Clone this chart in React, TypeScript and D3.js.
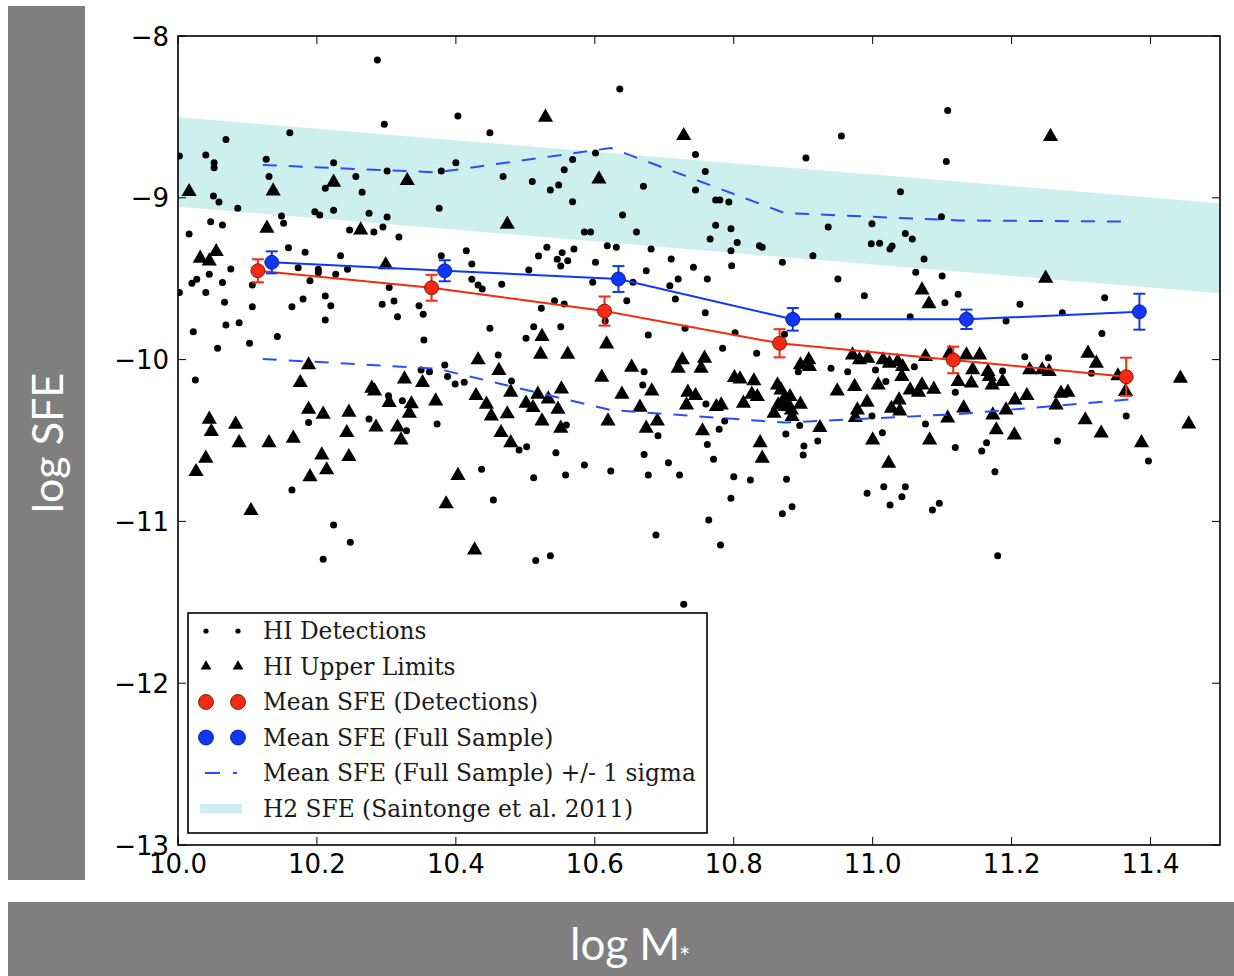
import React from 'react';
import * as d3 from 'd3';

const W = 1234;
const H = 976;
const M = { left: 178, right: 1220, top: 36, bottom: 845 };

const xTicks = [10.0, 10.2, 10.4, 10.6, 10.8, 11.0, 11.2, 11.4];
const yTicks = [-8, -9, -10, -11, -12, -13];

const hiDetections: [number, number][] = [
  [10.287,-8.148],[10.297,-8.546],[10.403,-8.494],[10.449,-8.598],[10.161,-8.598],[10.069,-8.639],[10.002,-8.742],[10.040,-8.735],[10.052,-8.783],[10.052,-8.814],[10.127,-8.762],[10.224,-8.783],[10.301,-8.834],[10.379,-8.834],[10.400,-8.783],[10.131,-8.869],[10.256,-8.869],[10.468,-8.869],[10.212,-8.941],[10.265,-8.966],[10.051,-8.989],[10.059,-9.026],[10.086,-9.065],[10.197,-9.086],[10.204,-9.106],[10.224,-9.077],[10.275,-9.096],[10.301,-9.119],[10.376,-9.065],[10.149,-9.112],[10.152,-9.158],[10.047,-9.148],[10.064,-9.168],[10.016,-9.224],[10.247,-9.199],[10.282,-9.211],[10.295,-9.180],[10.318,-9.242],[10.159,-9.308],[10.183,-9.337],[10.234,-9.358],[10.379,-9.358],[10.415,-9.327],[10.423,-9.409],[10.505,-9.446],[10.076,-9.440],[10.045,-9.473],[10.020,-9.528],[10.027,-9.504],[10.064,-9.524],[10.107,-9.539],[10.173,-9.432],[10.202,-9.442],[10.202,-9.463],[10.227,-9.473],[10.244,-9.442],[10.190,-9.512],[10.304,-9.555],[10.423,-9.504],[10.432,-9.539],[10.438,-9.564],[10.466,-9.535],[10.002,-9.586],[10.040,-9.586],[10.067,-9.646],[10.107,-9.673],[10.164,-9.673],[10.180,-9.625],[10.212,-9.607],[10.220,-9.667],[10.294,-9.658],[10.311,-9.638],[10.347,-9.667],
  [10.636,-8.328],[10.955,-8.618],[10.745,-8.733],[10.904,-8.754],[10.601,-8.723],[10.568,-8.764],[10.556,-8.826],[10.759,-8.838],[10.510,-8.900],[10.536,-8.952],[10.548,-8.921],[10.670,-8.929],[10.745,-8.952],[10.568,-9.024],[10.774,-9.014],[10.780,-9.014],[10.793,-9.026],[10.640,-9.106],[10.585,-9.211],[10.594,-9.211],[10.660,-9.211],[10.774,-9.170],[10.796,-9.191],[10.936,-9.180],[10.999,-9.160],[10.766,-9.255],[10.805,-9.276],[10.796,-9.327],[10.837,-9.296],[10.841,-9.306],[10.998,-9.284],[10.531,-9.306],[10.519,-9.360],[10.553,-9.339],[10.546,-9.380],[10.561,-9.389],[10.551,-9.421],[10.570,-9.316],[10.618,-9.296],[10.631,-9.306],[10.681,-9.316],[10.601,-9.399],[10.710,-9.378],[10.742,-9.430],[10.797,-9.420],[10.674,-9.451],[10.870,-9.399],[10.914,-9.358],[10.597,-9.522],[10.655,-9.522],[10.720,-9.502],[10.708,-9.543],[10.762,-9.502],[10.950,-9.502],[10.646,-9.636],[10.716,-9.625],[10.988,-9.605],[10.542,-9.636],[10.556,-9.656],[10.523,-9.683],
  [11.108,-8.461],[11.106,-8.775],[11.040,-8.962],[11.099,-9.117],[11.047,-9.220],[11.057,-9.255],[11.010,-9.281],[11.025,-9.316],[11.028,-9.298],[11.074,-9.378],[11.062,-9.460],[11.100,-9.483],[11.123,-9.596],[11.104,-9.648],[11.212,-9.658],[11.334,-9.617],
  [10.022,-9.828],[10.069,-9.786],[10.088,-9.772],[10.057,-9.930],[10.103,-9.899],[10.143,-9.858],[10.212,-9.755],[10.316,-9.735],[10.353,-9.720],[10.354,-9.879],[10.449,-9.807],[10.461,-9.972],[10.501,-9.868],[10.025,-10.126],[10.350,-10.064],[10.362,-10.075],[10.384,-10.033],[10.388,-10.105],[10.399,-10.151],[10.412,-10.140],[10.480,-10.132],[10.303,-10.223],[10.323,-10.254],[10.188,-10.388],[10.275,-10.367],[10.329,-10.439],[10.373,-10.398],[10.491,-10.559],[10.502,-10.538],[10.437,-10.678],[10.164,-10.806],[10.454,-10.868],[10.224,-11.022],[10.248,-11.129],[10.209,-11.234],
  [10.759,-9.710],[10.950,-9.731],[10.512,-9.797],[10.551,-9.797],[10.677,-9.848],[10.730,-9.807],[10.802,-9.834],[10.873,-9.844],[10.784,-9.930],[10.833,-9.961],[10.615,-9.762],[10.671,-10.075],[10.669,-10.157],[10.760,-10.274],[10.893,-10.075],[10.940,-10.054],[10.964,-10.075],[10.559,-10.404],[10.691,-10.470],[10.779,-10.431],[10.787,-10.380],[10.875,-10.460],[10.895,-10.408],[10.999,-10.349],[10.544,-10.575],[10.762,-10.524],[10.901,-10.534],[10.921,-10.503],[10.900,-10.590],[10.671,-10.586],[10.706,-10.637],[10.585,-10.651],[10.771,-10.616],[10.512,-10.730],[10.558,-10.713],[10.623,-10.689],[10.677,-10.713],[10.722,-10.713],[10.800,-10.724],[10.824,-10.744],[10.876,-10.740],[10.796,-10.857],[10.992,-10.826],[10.764,-10.991],[10.870,-10.952],[10.884,-10.909],[10.688,-11.084],[10.781,-11.146],[10.515,-11.242],[10.536,-11.212],
  [11.054,-9.735],[11.192,-9.761],[11.273,-9.710],[11.330,-9.838],[11.219,-9.982],[11.253,-9.988],[11.060,-10.044],[11.004,-10.064],[11.187,-10.070],[11.315,-10.084],[11.119,-10.202],[11.076,-10.398],[11.014,-10.452],[11.365,-10.349],[11.119,-10.544],[11.157,-10.565],[11.164,-10.514],[11.266,-10.503],[11.397,-10.627],[11.176,-10.693],[11.016,-10.786],[11.047,-10.786],[11.042,-10.847],[11.025,-10.899],[11.096,-10.888],[11.086,-10.930],[11.180,-11.212],[11.019,-10.136],
  [10.728,-11.512],
];

const hiUpperLimits: [number, number][] = [
  [10.016,-8.962],[10.137,-8.958],[10.224,-8.904],[10.330,-8.894],[10.128,-9.189],[10.263,-9.199],[10.474,-9.164],[10.032,-9.374],[10.045,-9.391],[10.055,-9.333],[10.299,-9.415],
  [10.529,-8.503],[10.728,-8.616],[10.606,-8.884],
  [11.256,-8.622],[11.249,-9.498],[11.071,-9.570],[11.081,-9.656],
  [10.045,-10.369],[10.048,-10.445],[10.083,-10.400],[10.088,-10.514],[10.131,-10.514],[10.166,-10.487],[10.040,-10.610],[10.026,-10.693],[10.105,-10.934],[10.188,-10.033],[10.176,-10.143],[10.188,-10.307],[10.209,-10.338],[10.246,-10.326],[10.243,-10.452],[10.207,-10.590],[10.214,-10.682],[10.190,-10.724],[10.246,-10.600],[10.279,-10.177],[10.283,-10.194],[10.304,-10.266],[10.285,-10.418],[10.326,-10.120],[10.352,-10.143],[10.336,-10.274],[10.333,-10.332],[10.316,-10.418],[10.321,-10.497],[10.371,-10.256],[10.432,-10.002],[10.462,-10.068],[10.429,-10.223],[10.444,-10.276],[10.451,-10.349],[10.474,-10.336],[10.465,-10.452],[10.479,-10.514],[10.479,-10.202],[10.501,-10.270],[10.403,-10.717],[10.386,-10.892],[10.427,-11.177],
  [10.524,-9.858],[10.522,-9.967],[10.561,-9.967],[10.617,-9.904],[10.610,-10.110],[10.653,-10.048],[10.639,-10.215],[10.682,-10.194],[10.665,-10.295],[10.690,-10.380],[10.674,-10.425],[10.619,-10.380],[10.552,-10.182],[10.518,-10.215],[10.533,-10.244],[10.511,-10.297],[10.547,-10.307],[10.524,-10.380],[10.551,-10.425],[10.726,-10.002],[10.720,-10.054],[10.758,-9.992],[10.753,-10.054],[10.734,-10.202],[10.745,-10.223],[10.732,-10.281],[10.755,-10.441],[10.775,-10.291],[10.782,-10.281],[10.801,-10.112],[10.809,-10.120],[10.829,-10.132],[10.826,-10.215],[10.834,-10.229],[10.814,-10.270],[10.838,-10.514],[10.841,-10.610],[10.863,-10.157],[10.868,-10.188],[10.858,-10.332],[10.873,-10.239],[10.881,-10.229],[10.878,-10.281],[10.883,-10.312],[10.874,-10.291],[10.864,-10.281],[10.884,-10.353],[10.896,-10.276],[10.896,-10.033],[10.908,-10.002],[10.909,-10.044],[10.924,-10.421],[10.949,-10.194],[10.974,-10.167],[10.992,-10.264],[10.978,-10.312],[10.975,-10.359],[10.971,-9.972],[10.981,-10.002],[10.993,-9.992],[11.000,-10.497],
  [11.310,-9.961],[11.322,-10.023],[11.443,-10.116],[11.455,-10.398],[11.387,-10.514],[11.076,-9.982],[11.135,-9.972],[11.154,-9.972],[11.111,-9.961],[11.144,-10.064],[11.166,-10.075],[11.168,-10.105],[11.187,-10.136],[11.123,-10.136],[11.142,-10.146],[11.172,-10.157],[11.226,-10.064],[11.244,-10.064],[11.254,-10.075],[11.271,-10.208],[11.281,-10.202],[11.264,-10.281],[11.222,-10.223],[11.205,-10.250],[11.192,-10.312],[11.173,-10.343],[11.178,-10.435],[11.204,-10.466],[11.131,-10.300],[11.108,-10.362],[11.082,-10.497],[11.306,-10.373],[11.329,-10.455],[11.364,-10.198],[11.353,-10.101],[11.023,-10.641],[11.008,-10.157],[11.038,-10.250],[11.027,-10.302],[11.039,-10.318],[11.042,-10.105],[11.043,-10.044],[11.071,-10.157],[11.066,-10.202],[11.088,-10.184],[11.054,-10.188],[11.024,-10.023],[11.036,-10.013],[11.015,-10.002],
];

const meanDetX = [10.115, 10.365, 10.614, 10.866, 11.116, 11.365];
const meanDetY = [-9.451, -9.556, -9.700, -9.899, -10.002, -10.106];
const meanDetErr = [0.071, 0.080, 0.090, 0.087, 0.082, 0.118];

const meanFullX = [10.135, 10.384, 10.634, 10.885, 11.135, 11.384];
const meanFullY = [-9.399, -9.451, -9.502, -9.751, -9.751, -9.704];
const meanFullErr = [0.068, 0.065, 0.080, 0.070, 0.060, 0.111];

const sigmaX = [10.122, 10.373, 10.623, 10.873, 11.124, 11.374];
const sigmaUpper = [-8.797, -8.843, -8.692, -9.094, -9.140, -9.147];
const sigmaLower = [-9.996, -10.056, -10.312, -10.389, -10.337, -10.244];

const h2BandX = [10.0, 11.5];
const h2BandUpper = [-8.502, -9.034];
const h2BandLower = [-9.055, -9.590];

const legendLabels = [
  'HI Detections',
  'HI Upper Limits',
  'Mean SFE (Detections)',
  'Mean SFE (Full Sample)',
  'Mean SFE (Full Sample) +/- 1 sigma',
  'H2 SFE (Saintonge et al. 2011)',
];

const RED = '#f52a10';
const BLUE = '#0f36fa';
const DASH_BLUE = '#2a4cff';
const CYAN = '#cdf0ef';
const GRAY = '#7f7f7f';

const fmtY = (v: number) => (v < 0 ? '\u2212' + Math.abs(v) : String(v));
const fmtX = (v: number) => v.toFixed(1);

export default function App() {
  const x = d3.scaleLinear().domain([10, 11.5]).range([M.left, M.right]);
  const y = d3.scaleLinear().domain([-13, -8]).range([M.bottom, M.top]);

  const band = d3
    .area<number>()
    .x((d) => x(d))
    .y0((_d, i) => y(h2BandLower[i]))
    .y1((_d, i) => y(h2BandUpper[i]))(h2BandX) as string;

  const line = d3
    .line<[number, number]>()
    .x((d) => x(d[0]))
    .y((d) => y(d[1]));

  const upperPath = line(sigmaX.map((v, i) => [v, sigmaUpper[i]] as [number, number])) as string;
  const lowerPath = line(sigmaX.map((v, i) => [v, sigmaLower[i]] as [number, number])) as string;
  const detPath = line(meanDetX.map((v, i) => [v, meanDetY[i]] as [number, number])) as string;
  const fullPath = line(meanFullX.map((v, i) => [v, meanFullY[i]] as [number, number])) as string;

  const tri = d3.symbol().type(d3.symbolTriangle).size(100)() as string;
  const triSmall = d3.symbol().type(d3.symbolTriangle).size(50)() as string;

  const tick = 8;
  const legendX = 188;
  const legendY = 613;
  const rowH = 35.5;
  const rowY0 = 631;

  const errBars = (xs: number[], ys: number[], es: number[], color: string) =>
    xs.map((xv, i) => {
      const cx = x(xv);
      const y1 = y(ys[i] + es[i]);
      const y2 = y(ys[i] - es[i]);
      return (
        <g key={'e' + i} stroke={color} strokeWidth={2}>
          <line x1={cx} x2={cx} y1={y1} y2={y2} />
          <line x1={cx - 6} x2={cx + 6} y1={y1} y2={y1} />
          <line x1={cx - 6} x2={cx + 6} y1={y2} y2={y2} />
        </g>
      );
    });

  return (
    <svg
      width={W}
      height={H}
      viewBox={`0 0 ${W} ${H}`}
      style={{ position: 'absolute', left: 0, top: 0, background: '#fff' }}
    >
      <rect x={0} y={0} width={W} height={H} fill="#fff" />
      <defs>
        <clipPath id="plotClip">
          <rect x={M.left} y={M.top} width={M.right - M.left} height={M.bottom - M.top} />
        </clipPath>
      </defs>

      {/* Side label bars */}
      <rect x={8} y={6} width={77} height={874} fill={GRAY} />
      <text
        transform={`translate(63,443) rotate(-90)`}
        textAnchor="middle"
        fill="#fff"
        fontFamily="Lato, 'Open Sans', sans-serif"
        fontSize={43}
      >
        log SFE
      </text>
      <rect x={8} y={902} width={W - 8} height={74} fill={GRAY} />
      <text
        x={570}
        y={960}
        textAnchor="start"
        fill="#fff"
        fontFamily="Lato, 'Open Sans', sans-serif"
        fontSize={44}
      >
        log M
      </text>
      <text
        x={679}
        y={967}
        textAnchor="start"
        fill="#fff"
        fontFamily="Lato, 'Open Sans', sans-serif"
        fontSize={27}
      >
        *
      </text>

      <g clipPath="url(#plotClip)">
        <path d={band} fill={CYAN} stroke="none" />
        {hiDetections.map((d, i) => (
          <circle key={'d' + i} cx={x(d[0])} cy={y(d[1])} r={3.5} fill="#000" />
        ))}
        {hiUpperLimits.map((d, i) => (
          <path key={'t' + i} d={tri} transform={`translate(${x(d[0])},${y(d[1])})`} fill="#000" />
        ))}
        <path d={upperPath} fill="none" stroke={DASH_BLUE} strokeWidth={2} strokeDasharray="14,12" />
        <path d={lowerPath} fill="none" stroke={DASH_BLUE} strokeWidth={2} strokeDasharray="14,12" />

        <path d={detPath} fill="none" stroke={RED} strokeWidth={2} />
        {errBars(meanDetX, meanDetY, meanDetErr, RED)}
        {meanDetX.map((xv, i) => (
          <circle key={'r' + i} cx={x(xv)} cy={y(meanDetY[i])} r={7} fill={RED} stroke="#5a1005" strokeWidth={0.8} />
        ))}

        <path d={fullPath} fill="none" stroke={BLUE} strokeWidth={2} />
        {errBars(meanFullX, meanFullY, meanFullErr, BLUE)}
        {meanFullX.map((xv, i) => (
          <circle key={'b' + i} cx={x(xv)} cy={y(meanFullY[i])} r={7} fill={BLUE} stroke="#061660" strokeWidth={0.8} />
        ))}
      </g>

      {/* Frame */}
      <rect
        x={M.left}
        y={M.top}
        width={M.right - M.left}
        height={M.bottom - M.top}
        fill="none"
        stroke="#000"
        strokeWidth={1.6}
      />

      {/* Ticks */}
      {xTicks.map((t) => (
        <g key={'xt' + t}>
          <line x1={x(t)} x2={x(t)} y1={M.bottom} y2={M.bottom - tick} stroke="#000" strokeWidth={1} />
          <line x1={x(t)} x2={x(t)} y1={M.top} y2={M.top + tick} stroke="#000" strokeWidth={1} />
          <text
            x={x(t)}
            y={873}
            textAnchor="middle"
            fontFamily="'DejaVu Sans', sans-serif"
            fontSize={26}
            fill="#000"
          >
            {fmtX(t)}
          </text>
        </g>
      ))}
      {yTicks.map((t) => (
        <g key={'yt' + t}>
          <line x1={M.left} x2={M.left + tick} y1={y(t)} y2={y(t)} stroke="#000" strokeWidth={1} />
          <line x1={M.right} x2={M.right - tick} y1={y(t)} y2={y(t)} stroke="#000" strokeWidth={1} />
          <text
            x={169}
            y={y(t) + 9.5}
            textAnchor="end"
            fontFamily="'DejaVu Sans', sans-serif"
            fontSize={26}
            fill="#000"
          >
            {fmtY(t)}
          </text>
        </g>
      ))}

      {/* Legend */}
      <g>
        <rect x={legendX} y={legendY} width={519} height={220} fill="#fff" stroke="#000" strokeWidth={1.6} />
        {legendLabels.map((lab, i) => {
          const cy = rowY0 + i * rowH;
          let marker: React.ReactNode = null;
          if (i === 0) {
            marker = (
              <g>
                <circle cx={206} cy={cy} r={2.6} fill="#000" />
                <circle cx={238} cy={cy} r={2.6} fill="#000" />
              </g>
            );
          } else if (i === 1) {
            marker = (
              <g>
                <path d={triSmall} transform={`translate(206,${cy})`} fill="#000" />
                <path d={triSmall} transform={`translate(238,${cy})`} fill="#000" />
              </g>
            );
          } else if (i === 2 || i === 3) {
            const c = i === 2 ? RED : BLUE;
            const s = i === 2 ? '#5a1005' : '#061660';
            marker = (
              <g>
                <circle cx={206} cy={cy} r={7.5} fill={c} stroke={s} strokeWidth={0.8} />
                <circle cx={238} cy={cy} r={7.5} fill={c} stroke={s} strokeWidth={0.8} />
              </g>
            );
          } else if (i === 4) {
            marker = (
              <line x1={205} x2={237} y1={cy} y2={cy} stroke={DASH_BLUE} strokeWidth={2} strokeDasharray="15,13" />
            );
          } else {
            marker = <rect x={200} y={cy - 4.5} width={42} height={9.5} fill={CYAN} />;
          }
          return (
            <g key={'lg' + i}>
              {marker}
              <text
                x={263}
                y={cy + 8}
                fontFamily="'DejaVu Serif', serif"
                fontSize={23.3}
                fill="#1a1a1a"
              >
                {lab}
              </text>
            </g>
          );
        })}
      </g>
    </svg>
  );
}
